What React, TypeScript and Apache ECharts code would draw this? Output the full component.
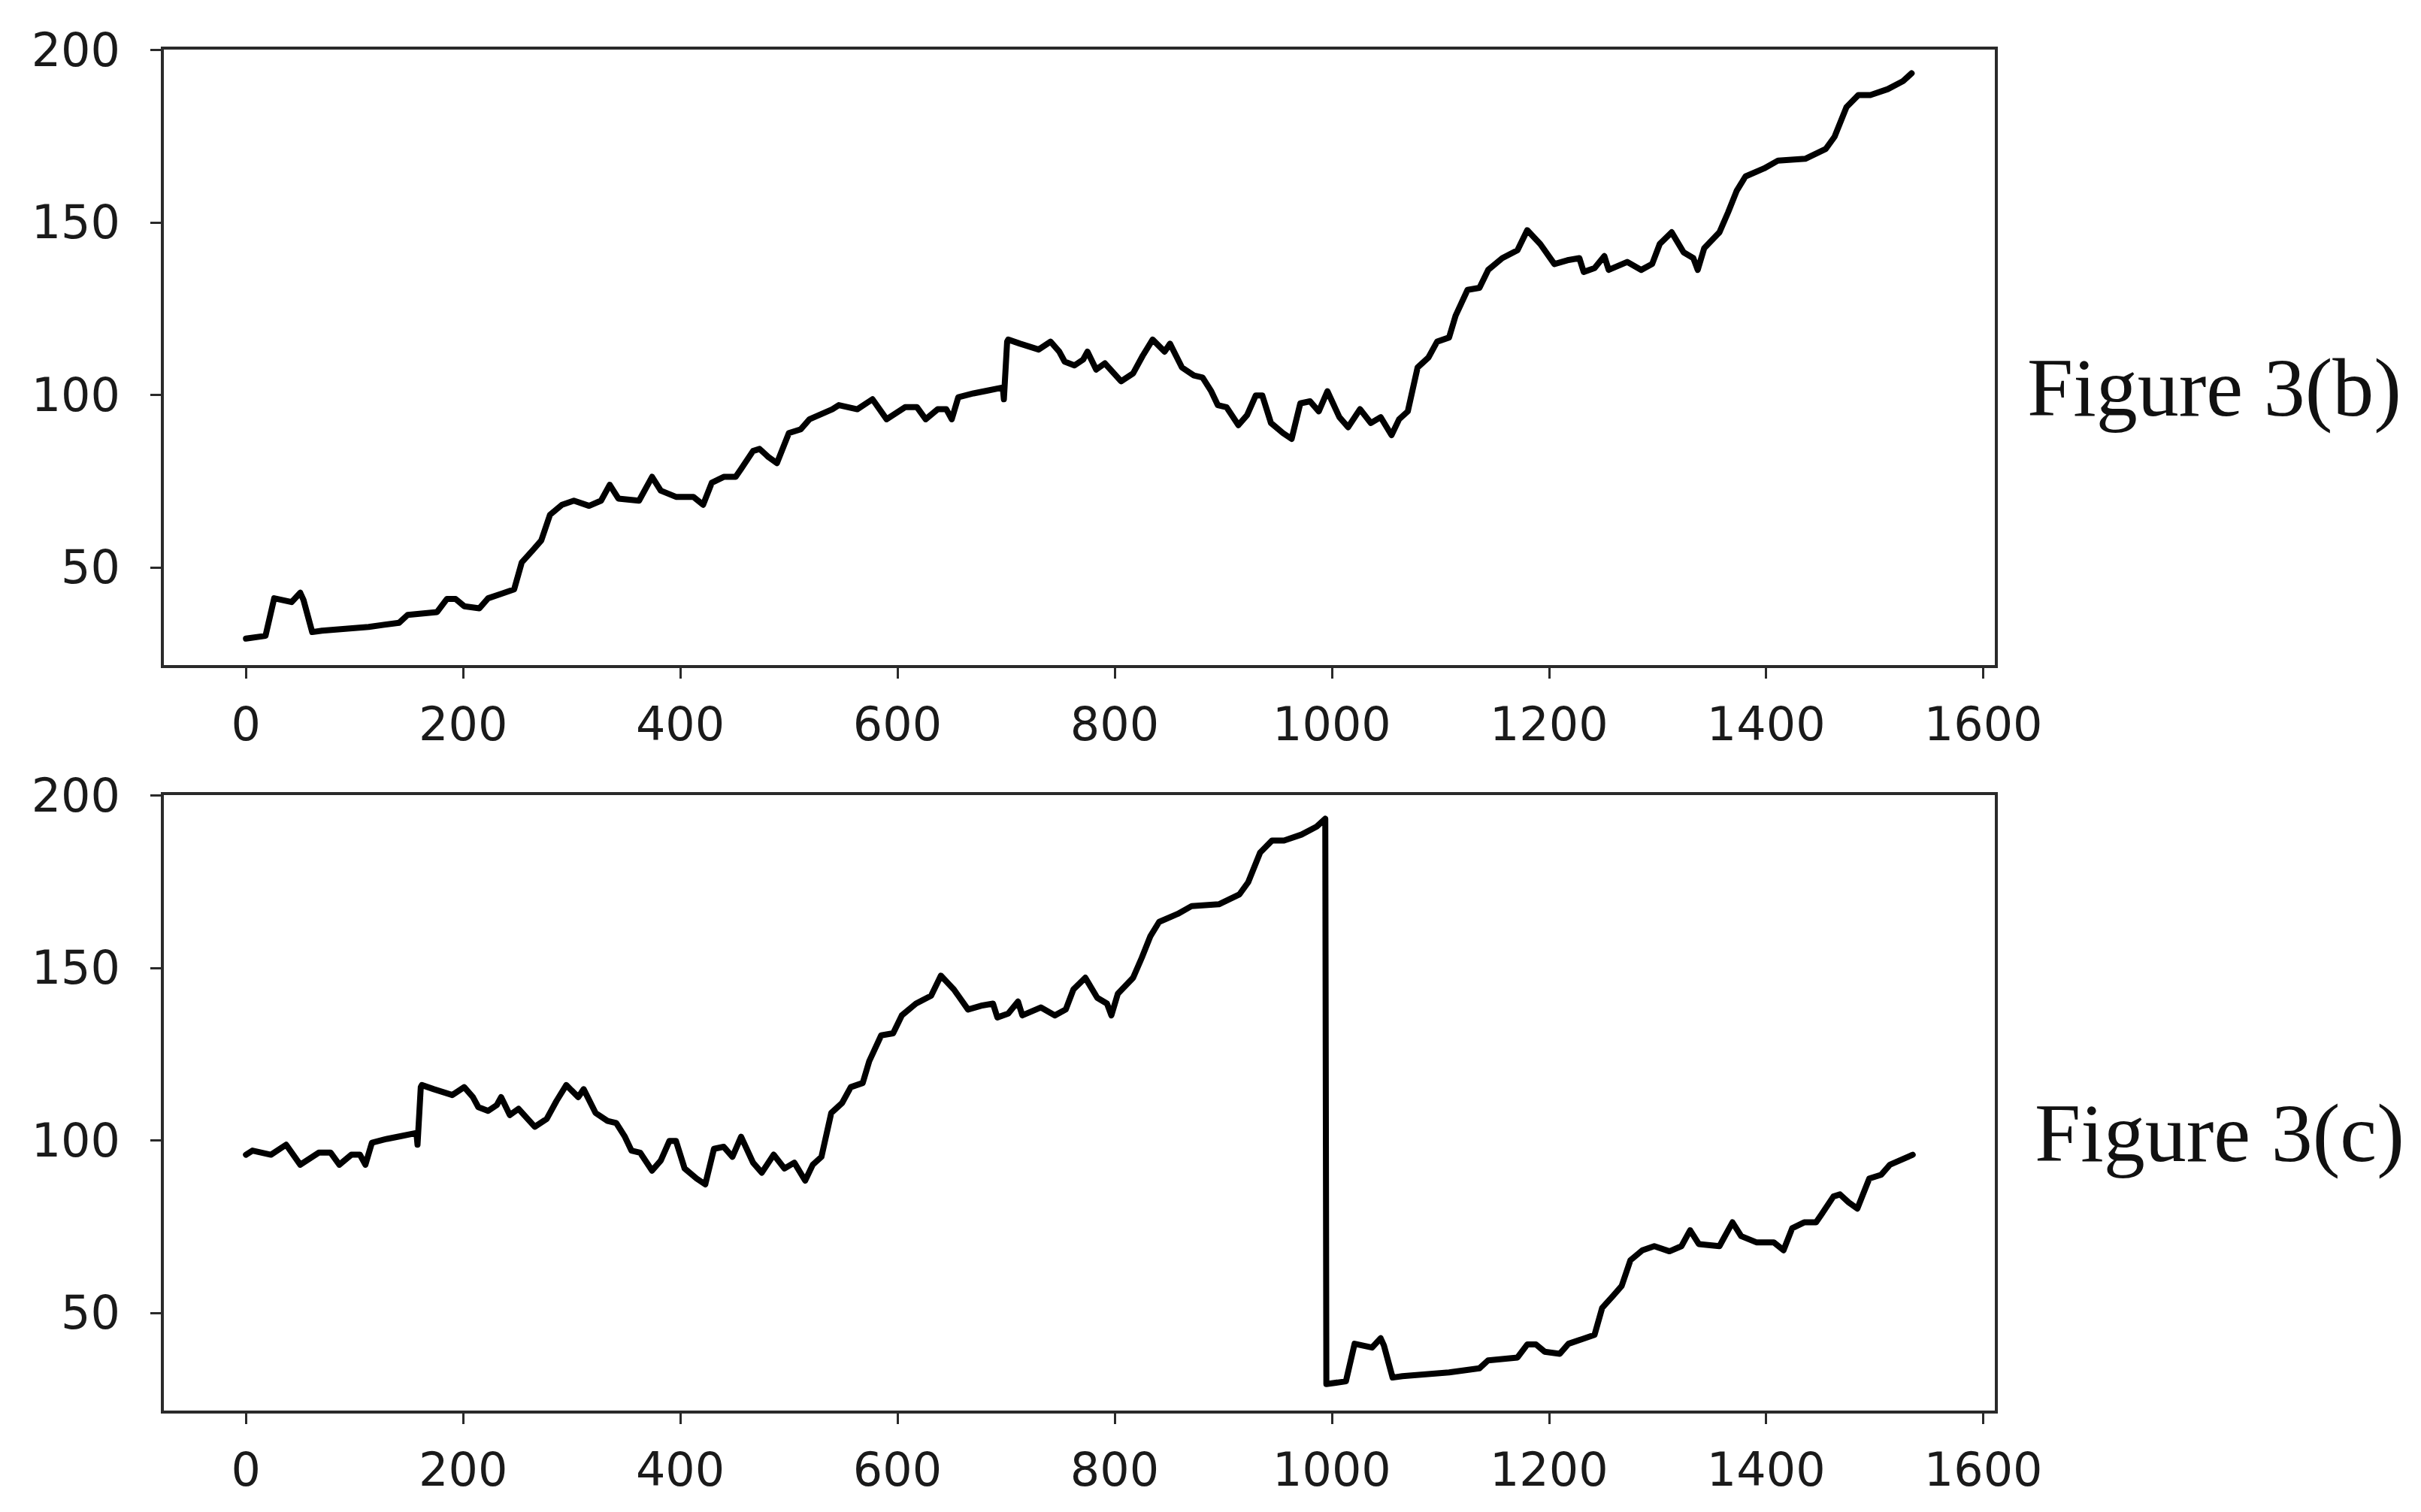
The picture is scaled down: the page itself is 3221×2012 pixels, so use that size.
import React, { useEffect, useRef } from "react";
import * as echarts from "echarts";

// Tick labels
const X_TICKS = [0, 200, 400, 600, 800, 1000, 1200, 1400, 1600];
const Y_TICKS = [50, 100, 150, 200];

// Figure 3(b): sample index and value
const B_X = [
  0, 18, 26, 42, 50, 53, 61, 70, 113, 141, 149, 176, 185, 193, 201, 215, 223, 236, 247, 254,
  264, 272, 280, 291, 302, 316, 327, 335, 343, 362, 374, 382, 396, 412, 421, 429, 440, 451, 456, 467,
  473, 481, 489, 500, 511, 519, 540, 546, 563, 577, 590, 607, 618, 626, 637, 645, 650, 656, 670, 683,
  697, 698, 701, 702, 713, 724, 730, 741, 749, 754, 763, 771, 775, 783, 791, 806, 817, 826, 835, 846,
  851, 862, 873, 881, 889, 895, 903, 914, 922, 930, 936, 944, 955, 963, 971, 980, 988, 996, 1007, 1015,
  1026, 1036, 1045, 1055, 1062, 1070, 1079, 1089, 1097, 1108, 1114, 1125, 1136, 1144, 1157, 1171, 1180, 1192, 1205, 1217,
  1228, 1232, 1242, 1251, 1255, 1272, 1285, 1295, 1302, 1313, 1324, 1333, 1337, 1343, 1357, 1365, 1373, 1381, 1398, 1411,
  1436, 1455, 1463, 1474, 1485, 1496, 1512, 1526, 1534,
];
const B_Y = [
  29.3, 30.1, 41.0, 39.9, 42.6, 40.5, 31.2, 31.6, 32.7, 33.9, 36.2, 37.0, 40.8, 40.8, 38.7, 38.1, 41.0, 42.4, 43.6, 51.4,
  54.9, 57.8, 65.2, 68.1, 69.3, 67.8, 69.3, 73.9, 69.9, 69.3, 76.2, 72.2, 70.4, 70.4, 68.1, 74.5, 76.2, 76.2, 78.5, 83.7,
  84.3, 82.0, 80.2, 88.9, 90.0, 92.9, 95.8, 97.0, 95.8, 98.7, 92.9, 96.4, 96.4, 92.9, 95.8, 95.8, 92.9, 99.3, 100.4, 101.2,
  102.1, 98.7, 115.4, 116.0, 114.8, 113.7, 113.1, 115.4, 112.5, 109.6, 108.5, 110.2, 112.5, 107.3, 109.1, 103.9, 106.2, 111.4, 116.0, 112.5,
  114.8, 107.9, 105.6, 105.0, 101.0, 97.0, 96.4, 91.2, 94.1, 99.8, 99.8, 91.8, 88.9, 87.2, 97.5, 98.1, 95.2, 101.0, 93.5, 90.6,
  95.8, 91.8, 93.5, 88.3, 92.9, 95.2, 107.9, 110.8, 115.4, 116.6, 122.9, 130.4, 131.0, 136.2, 139.6, 141.9, 147.7, 143.7, 137.9, 139.0,
  139.6, 135.6, 136.7, 140.2, 136.2, 138.5, 136.2, 137.9, 143.7, 147.1, 141.3, 139.6, 136.2, 142.5, 147.1, 152.9, 159.2, 163.3, 165.6, 167.9,
  168.4, 171.3, 174.8, 183.4, 186.9, 186.9, 188.6, 190.9, 193.2,
];

// Figure 3(c) is the same series started at sample 540 of 3(b) (1535 samples in all)
const ROLL_START = 540;
const SERIES_LEN = 1535;

const LABELS = ["Figure 3(b)", "Figure 3(c)"];

const AX = "#2a2a2a";
const TICK_FONT = "DejaVu Sans";

export default function App() {
  const ref = useRef<HTMLDivElement>(null);

  useEffect(() => {
    if (!ref.current) return;
    const chart = echarts.init(ref.current, null, { renderer: "svg" });

    const bData = B_X.map((x, i) => [x, B_Y[i]]);
    const cData: number[][] = [];
    B_X.forEach((x, i) => {
      if (x >= ROLL_START) cData.push([x - ROLL_START, B_Y[i]]);
    });
    B_X.forEach((x, i) => {
      if (x <= ROLL_START) cData.push([x + SERIES_LEN - ROLL_START, B_Y[i]]);
    });

    const grids = [
      { left: 216, top: 64, width: 2440, height: 823 },
      { left: 216, top: 1056, width: 2440, height: 823 },
    ].map((g) => ({
      ...g,
      show: true,
      borderColor: AX,
      borderWidth: 4,
      backgroundColor: "transparent",
      containLabel: false,
      outerBoundsMode: "none",
    }));

    const xAxis = [0, 1].map((gi) => ({
      type: "value",
      gridIndex: gi,
      min: -77,
      max: 1612,
      axisLine: { show: true, onZero: false, lineStyle: { color: AX, width: 4 } },
      axisTick: { show: true, length: 16, customValues: X_TICKS, lineStyle: { color: AX, width: 3 } },
      axisLabel: {
        show: true,
        customValues: X_TICKS,
        formatter: (v: number) => String(v),
        margin: 45,
        fontFamily: TICK_FONT,
        fontSize: 62,
        color: "#1a1a1a",
      },
      splitLine: { show: false },
    }));

    const yAxis = [0, 1].map((gi) => ({
      type: "value",
      gridIndex: gi,
      min: 21.2,
      max: 200.5,
      axisLine: { show: true, onZero: false, lineStyle: { color: AX, width: 4 } },
      axisTick: { show: true, length: 16, customValues: Y_TICKS, lineStyle: { color: AX, width: 3 } },
      axisLabel: {
        show: true,
        customValues: Y_TICKS,
        formatter: (v: number) => String(v),
        margin: 56,
        fontFamily: TICK_FONT,
        fontSize: 62,
        color: "#1a1a1a",
      },
      splitLine: { show: false },
    }));

    const lineSeries = (data: number[][], idx: number) => ({
      type: "line",
      xAxisIndex: idx,
      yAxisIndex: idx,
      data,
      showSymbol: false,
      symbol: "none",
      lineStyle: { color: "#000", width: 8, cap: "round", join: "round" },
      z: 3,
    });

    chart.setOption({
      animation: false,
      backgroundColor: "#ffffff",
      grid: grids,
      xAxis,
      yAxis,
      series: [lineSeries(bData, 0), lineSeries(cData, 1)],
      graphic: [
        {
          type: "text",
          x: 2697,
          y: 516,
          style: {
            text: LABELS[0],
            fontFamily: "Liberation Serif",
            fontSize: 110,
            fill: "#111",
            align: "left",
            verticalAlign: "middle",
          },
        },
        {
          type: "text",
          x: 2707,
          y: 1508,
          style: {
            text: LABELS[1],
            fontFamily: "Liberation Serif",
            fontSize: 110,
            fill: "#111",
            align: "left",
            verticalAlign: "middle",
          },
        },
      ],
    });

    return () => chart.dispose();
  }, []);

  return (
    <div
      ref={ref}
      style={{ position: "absolute", left: 0, top: 0, width: 3221, height: 2012, background: "#fff" }}
    />
  );
}
